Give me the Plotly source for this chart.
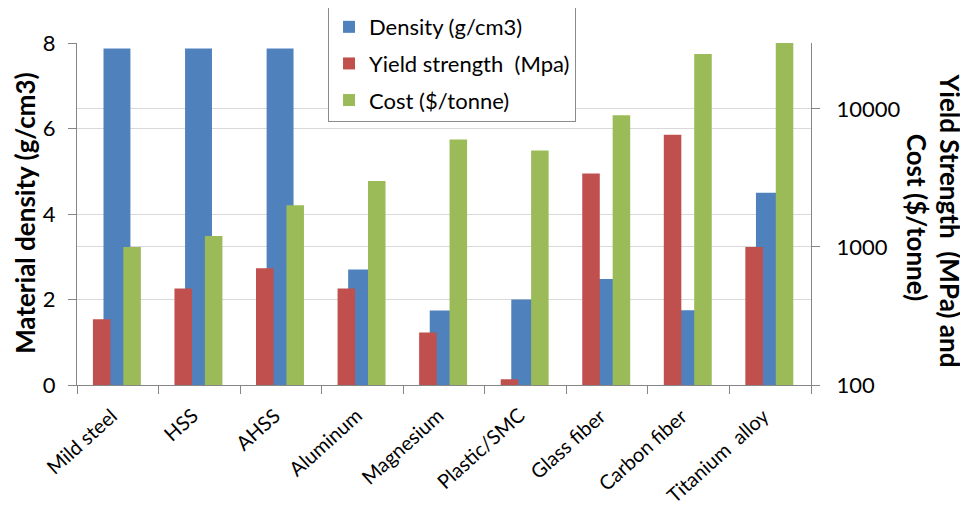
import plotly.graph_objects as go

materials = ["Mild steel", "HSS", "AHSS", "Aluminum", "Magnesium",
             "Plastic/SMC", "Glass fiber", "Carbon fiber", "Titanium\u00a0 alloy"]
density = [7.87, 7.87, 7.87, 2.7, 1.74, 2.0, 2.48, 1.75, 4.5]          # g/cm3
yield_strength = [300, 500, 700, 500, 240, 110, 3400, 6500, 1000]    # MPa
cost = [1000, 1200, 2000, 3000, 6000, 5000, 9000, 25000, 30000]      # $/tonne

BLUE, RED, GREEN = "#4F81BD", "#C0504D", "#9BBB59"
FONT = "Lato"
GRID = "#D9D9D9"
AXIS = "#868686"

fig = go.Figure()
fig.add_trace(go.Bar(x=materials, y=density, name="Density (g/cm3)",
                     marker=dict(color=BLUE, line=dict(width=0)),
                     offset=-0.175, width=0.33, yaxis="y", legendgroup="a"))
fig.add_trace(go.Bar(x=materials, y=yield_strength, name="Yield strength\u00a0 (Mpa)",
                     marker=dict(color=RED, line=dict(width=0)),
                     offset=-0.305, width=0.215, yaxis="y2", legendgroup="b"))
fig.add_trace(go.Bar(x=materials, y=cost, name="Cost ($/tonne)",
                     marker=dict(color=GREEN, line=dict(width=0)),
                     offset=0.068, width=0.215, yaxis="y2", legendgroup="c"))

# category labels as rotated annotations anchored at each category
label_annotations = [
    dict(text=m, x=m, xref="x", y=0, yref="paper", textangle=-42,
         xanchor="right", yanchor="top", xshift=6, yshift=-15,
         showarrow=False, font=dict(size=20, family=FONT))
    for m in materials
]

fig.update_layout(
    width=968, height=514,
    margin=dict(l=69, r=165, t=35, b=137, autoexpand=False),
    paper_bgcolor="white", plot_bgcolor="white",
    font=dict(family=FONT, color="black"),
    barmode="overlay",
    showlegend=True,
    legend=dict(x=0.342, y=1.111, xanchor="left", yanchor="top",
                bgcolor="white", bordercolor="#8C8C8C", borderwidth=1,
                font=dict(size=22, family=FONT), traceorder="grouped",
                tracegroupgap=5, itemwidth=30),
    xaxis=dict(type="category", range=[-0.5, len(materials) - 0.5],
               autorange=False, showgrid=False, showline=True, linecolor=AXIS,
               linewidth=1, ticks="outside", tickson="boundaries", ticklen=8,
               tickcolor=AXIS, showticklabels=False, automargin=False),
    yaxis=dict(range=[0, 8], dtick=2, showgrid=True, gridcolor=GRID,
               showline=True, linecolor=AXIS, ticks="outside", ticklen=8,
               tickcolor=AXIS, tickfont=dict(size=22, family=FONT),
               ticklabelstandoff=8, zeroline=False, automargin=False),
    yaxis2=dict(type="log", range=[2, 4.4771], overlaying="y", side="right",
                tickvals=[100, 1000, 10000], ticktext=["100", "1000", "10000"],
                showgrid=True, gridcolor=GRID, showline=True, linecolor=AXIS,
                ticks="outside", ticklen=8, tickcolor=AXIS,
                tickfont=dict(size=22, family=FONT), ticklabelstandoff=12,
                zeroline=False, automargin=False),
    annotations=label_annotations + [
        dict(text="<b>Material density (g/cm3)</b>", xref="paper", yref="paper",
             x=-0.071, y=0.503, textangle=-90, showarrow=False,
             font=dict(size=26, family=FONT), xanchor="center", yanchor="middle"),
        dict(text="<b>Yield Strength\u00a0 (MPa) and</b>",
             xref="paper", yref="paper", x=1.189, y=0.482, textangle=90,
             showarrow=False, font=dict(size=26, family=FONT),
             xanchor="center", yanchor="middle"),
        dict(text="<b>Cost ($/tonne)</b>",
             xref="paper", yref="paper", x=1.144, y=0.490, textangle=90,
             showarrow=False, font=dict(size=26, family=FONT),
             xanchor="center", yanchor="middle"),
    ],
)

fig.write_html("out.html")
